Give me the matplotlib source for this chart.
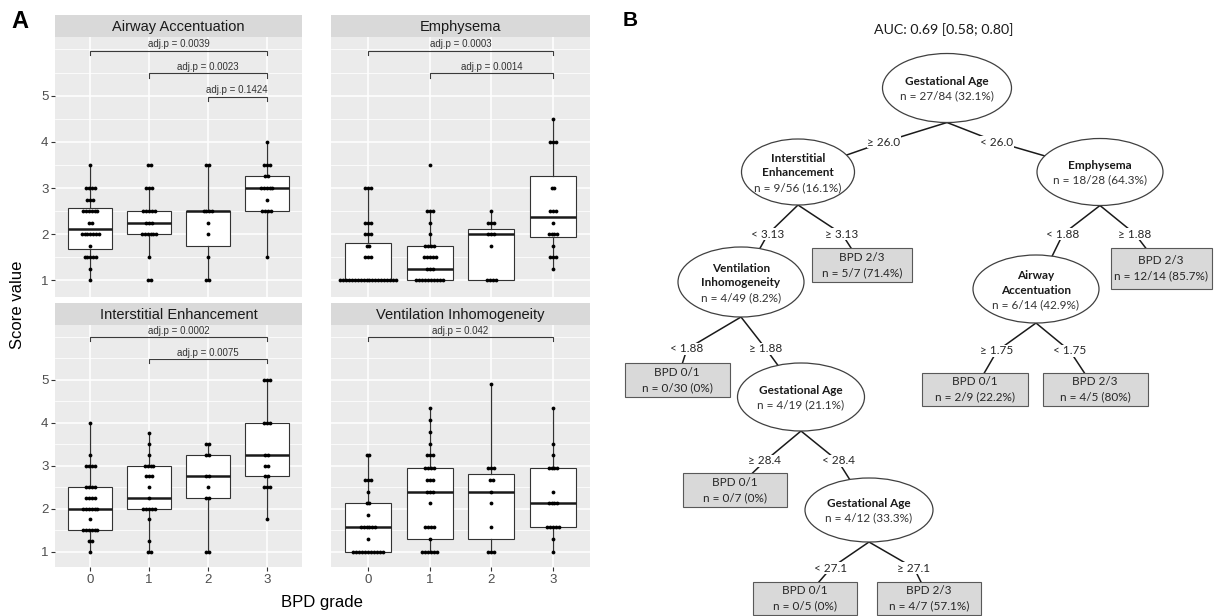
import matplotlib
matplotlib.use("Agg")
import matplotlib.pyplot as plt
from matplotlib.patches import Ellipse, Rectangle

W, H = 1217, 616

grade_labels = ["0", "1", "2", "3"]

# ---- Airway Accentuation: dot values / stacked counts per BPD grade, box statistics
airway_values = [
    [3.5, 3.0, 2.75, 2.5, 2.25, 2.0, 1.75, 1.5, 1.25, 1.0],
    [3.5, 3.0, 2.5, 2.25, 2.0, 1.5, 1.0],
    [3.5, 2.5, 2.25, 2.0, 1.5, 1.0],
    [4.0, 3.5, 3.25, 3.0, 2.75, 2.5, 1.5],
]
airway_counts = [
    [1, 4, 3, 6, 2, 7, 1, 5, 1, 1],
    [2, 3, 5, 3, 6, 1, 2],
    [2, 4, 1, 1, 1, 2],
    [1, 3, 2, 5, 1, 4, 1],
]
airway_q1 = [1.68, 2.0, 1.75, 2.5]
airway_median = [2.12, 2.25, 2.5, 3.0]
airway_q3 = [2.56, 2.5, 2.5, 3.25]
airway_low = [1.0, 1.5, 1.0, 1.5]
airway_high = [3.5, 3.0, 3.5, 4.0]
airway_pairs = [(0, 3), (1, 3), (2, 3)]
airway_bracket_y = [5.97, 5.48, 4.98]
airway_pvals = ["0.0039", "0.0023", "0.1424"]

# ---- Emphysema
emph_values = [
    [3.0, 2.25, 2.0, 1.75, 1.5, 1.0],
    [3.5, 2.5, 2.25, 2.0, 1.75, 1.5, 1.25, 1.0],
    [2.5, 2.25, 2.0, 1.75, 1.0],
    [4.5, 4.0, 3.0, 2.5, 2.25, 2.0, 1.75, 1.5, 1.25],
]
emph_counts = [
    [3, 3, 3, 2, 3, 20],
    [1, 3, 1, 1, 4, 5, 3, 10],
    [1, 3, 3, 1, 4],
    [1, 3, 2, 3, 1, 4, 1, 3, 1],
]
emph_q1 = [1.0, 1.0, 1.0, 1.93]
emph_median = [1.0, 1.25, 2.0, 2.37]
emph_q3 = [1.81, 1.75, 2.12, 3.25]
emph_low = [1.0, 1.0, 1.0, 1.25]
emph_high = [3.0, 2.5, 2.5, 4.5]
emph_pairs = [(0, 3), (1, 3)]
emph_bracket_y = [5.97, 5.48]
emph_pvals = ["0.0003", "0.0014"]

# ---- Interstitial Enhancement
inter_values = [
    [4.0, 3.25, 3.0, 2.5, 2.25, 2.0, 1.75, 1.5, 1.25, 1.0],
    [3.75, 3.5, 3.25, 3.0, 2.75, 2.5, 2.25, 2.0, 1.75, 1.25, 1.0],
    [3.5, 3.25, 2.75, 2.5, 2.25, 1.0],
    [5.0, 4.0, 3.25, 3.0, 2.75, 2.5, 1.75],
]
inter_counts = [
    [1, 1, 4, 4, 4, 6, 1, 6, 2, 1],
    [1, 1, 1, 4, 3, 1, 1, 5, 1, 1, 2],
    [2, 2, 2, 1, 2, 2],
    [3, 3, 2, 2, 2, 3, 1],
]
inter_q1 = [1.5, 2.0, 2.25, 2.75]
inter_median = [2.0, 2.25, 2.75, 3.25]
inter_q3 = [2.5, 3.0, 3.25, 4.0]
inter_low = [1.0, 1.0, 1.0, 1.75]
inter_high = [4.0, 3.75, 3.5, 5.0]
inter_pairs = [(0, 3), (1, 3)]
inter_bracket_y = [5.99, 5.48]
inter_pvals = ["0.0002", "0.0075"]

# ---- Ventilation Inhomogeneity
vent_values = [
    [3.24, 2.67, 2.39, 2.12, 1.84, 1.56, 1.28, 1.0],
    [4.33, 4.06, 3.78, 3.51, 3.24, 2.95, 2.67, 2.39, 2.12, 1.56, 1.28, 1.0],
    [4.9, 2.95, 2.67, 2.39, 2.12, 1.56, 1.0],
    [4.33, 3.51, 3.24, 2.95, 2.39, 2.12, 1.56, 1.28, 1.0],
]
vent_counts = [
    [2, 3, 1, 2, 1, 6, 1, 11],
    [1, 1, 1, 1, 3, 4, 3, 3, 1, 4, 1, 6],
    [1, 3, 2, 1, 1, 1, 3],
    [1, 1, 1, 4, 1, 4, 5, 1, 1],
]
vent_q1 = [1.0, 1.28, 1.28, 1.56]
vent_median = [1.56, 2.39, 2.39, 2.12]
vent_q3 = [2.12, 2.94, 2.81, 2.94]
vent_low = [1.0, 1.0, 1.0, 1.0]
vent_high = [3.24, 4.33, 4.9, 4.33]
vent_pairs = [(0, 3)]
vent_bracket_y = [5.99]
vent_pvals = ["0.042"]

# ---- Decision tree (panel B)
tree_names = ["Gestational Age", "Interstitial\nEnhancement", "Emphysema",
              "Ventilation\nInhomogeneity", "BPD 2/3", "Airway\nAccentuation",
              "BPD 2/3", "BPD 0/1", "Gestational Age", "BPD 0/1", "BPD 2/3",
              "BPD 0/1", "Gestational Age", "BPD 0/1", "BPD 2/3"]
tree_events = [27, 9, 18, 4, 5, 6, 12, 0, 4, 2, 4, 0, 4, 0, 4]
tree_totals = [84, 56, 28, 49, 7, 14, 14, 30, 19, 9, 5, 7, 12, 5, 7]
tree_parent = [None, 0, 0, 1, 1, 2, 2, 3, 3, 5, 5, 8, 8, 12, 12]
tree_split = ["", "≥ 26.0", "< 26.0", "< 3.13", "≥ 3.13", "< 1.88", "≥ 1.88",
              "< 1.88", "≥ 1.88", "≥ 1.75", "< 1.75", "≥ 28.4", "< 28.4",
              "< 27.1", "≥ 27.1"]
auc_text = "AUC: 0.69 [0.58; 0.80]"

# node layout (pixel units of the figure: centre x, centre y, width, height)
node_cx = [947, 798, 1100, 741, 862, 1036, 1161, 677, 801, 975, 1095, 735, 869, 805, 929]
node_cy = [88, 172, 172, 282, 265, 289, 268, 380, 397, 389, 389, 490, 510, 598, 598]
node_w = [129, 113, 126, 126, 100, 126, 101, 105, 127, 106, 105, 104, 128, 104, 104]
node_h = [69, 66, 67, 70, 34, 68, 41, 34, 68, 33, 33, 34, 64, 33, 33]
split_x = [0, 884, 997, 768, 842, 1063, 1135, 687, 766, 997, 1070, 765, 838, 831, 914]
split_y = [0, 142, 142, 234, 234, 234, 234, 349, 349, 351, 351, 461, 461, 568, 568]

SANS = "Liberation Sans"
TREE_FONT = "Lato"
TREE_SIZE = 8.5

fig = plt.figure(figsize=(W / 100, H / 100), dpi=100)
fig.patch.set_facecolor("white")


def rect(x0, y0, x1, y1):
    return [x0 / W, 1 - y1 / H, (x1 - x0) / W, (y1 - y0) / H]


def draw_facet(box, strip, title, values, counts, q1, med, q3, lo, hi,
               pairs, bracket_y, pvals, show_x, show_y):
    ax = fig.add_axes(rect(*box))
    ax.set_facecolor("#EBEBEB")
    for s in ax.spines.values():
        s.set_visible(False)
    ax.set_xlim(-0.6, 3.6)
    ax.set_ylim(0.64, 6.27)
    for yv in [1.5, 2.5, 3.5, 4.5, 5.5, 6.0]:
        ax.axhline(yv, color="white", lw=0.55, zorder=0)
    for yv in [1, 2, 3, 4, 5]:
        ax.axhline(yv, color="white", lw=1.1, zorder=0)
    for xv in range(4):
        ax.axvline(xv, color="white", lw=1.1, zorder=0)

    stats = [dict(q1=q1[i], med=med[i], q3=q3[i], whislo=lo[i], whishi=hi[i],
                  fliers=[]) for i in range(4)]
    ax.bxp(stats, positions=range(4), widths=0.75, patch_artist=True,
           showcaps=False, showfliers=False, manage_ticks=False,
           boxprops=dict(facecolor="white", edgecolor="#333333", linewidth=0.8),
           medianprops=dict(color="#1A1A1A", linewidth=1.8),
           whiskerprops=dict(color="#333333", linewidth=0.9), zorder=2)

    dx = 0.048
    xs, ys = [], []
    for g in range(4):
        for v, c in zip(values[g], counts[g]):
            for k in range(c):
                xs.append(g + (k - (c - 1) / 2) * dx)
                ys.append(v)
    ax.scatter(xs, ys, s=7.5, color="black", linewidths=0, zorder=3)

    for (a, b), yb, p in zip(pairs, bracket_y, pvals):
        tick = 0.09
        ax.plot([a, a, b, b], [yb - tick, yb, yb, yb - tick], color="#3a3a3a",
                lw=0.8, zorder=4, solid_joinstyle="miter")
        ax.text((a + b) / 2, yb + 0.03, f"adj.p = {p}", ha="center", va="bottom",
                fontsize=7, color="#333333", family=SANS, zorder=5)

    ax.set_yticks([1, 2, 3, 4, 5])
    ax.set_xticks(range(4))
    ax.tick_params(length=3.2, width=0.8, color="#333333", labelcolor="#4D4D4D",
                   labelsize=9.5, pad=1.5)
    if show_y:
        ax.set_yticklabels(["1", "2", "3", "4", "5"], family=SANS)
    else:
        ax.tick_params(axis="y", left=False, labelleft=False)
    if show_x:
        ax.set_xticklabels(grade_labels, family=SANS)
    else:
        ax.tick_params(axis="x", bottom=False, labelbottom=False)

    sax = fig.add_axes(rect(*strip))
    sax.set_facecolor("#D9D9D9")
    sax.set_xticks([])
    sax.set_yticks([])
    for s in sax.spines.values():
        s.set_visible(False)
    sax.text(0.5, 0.45, title, ha="center", va="center", fontsize=10.5,
             color="#1A1A1A", family=SANS, transform=sax.transAxes)
    return ax


draw_facet((55, 37, 302, 297), (55, 15, 302, 37), "Airway Accentuation",
           airway_values, airway_counts, airway_q1, airway_median, airway_q3,
           airway_low, airway_high, airway_pairs, airway_bracket_y, airway_pvals,
           False, True)
draw_facet((331, 37, 590, 297), (331, 15, 590, 37), "Emphysema",
           emph_values, emph_counts, emph_q1, emph_median, emph_q3,
           emph_low, emph_high, emph_pairs, emph_bracket_y, emph_pvals,
           False, False)
draw_facet((55, 325, 302, 567), (55, 303, 302, 325), "Interstitial Enhancement",
           inter_values, inter_counts, inter_q1, inter_median, inter_q3,
           inter_low, inter_high, inter_pairs, inter_bracket_y, inter_pvals,
           True, True)
draw_facet((331, 325, 590, 567), (331, 303, 590, 325), "Ventilation Inhomogeneity",
           vent_values, vent_counts, vent_q1, vent_median, vent_q3,
           vent_low, vent_high, vent_pairs, vent_bracket_y, vent_pvals,
           True, False)

fig.text(322 / W, 1 - 602 / H, "BPD grade", ha="center", va="center",
         fontsize=12, family=SANS, color="black")
fig.text(18 / W, 1 - 305 / H, "Score value", ha="center", va="center",
         rotation=90, fontsize=12, family=SANS, color="black")
fig.text(20 / W, 1 - 21 / H, "A", ha="center", va="center", fontsize=17,
         fontweight="bold", family=SANS)
fig.text(630 / W, 1 - 21 / H, "B", ha="center", va="center", fontsize=15,
         fontweight="bold", family=SANS)

# ---- tree overlay in pixel coordinates
tax = fig.add_axes([0, 0, 1, 1])
tax.set_xlim(0, W)
tax.set_ylim(H, 0)
tax.axis("off")
tax.patch.set_visible(False)

tax.text(944, 30, auc_text, ha="center", va="center", fontsize=10.2,
         family=TREE_FONT, color="#1A1A1A")


def pct(e, t):
    s = f"{100 * e / t:.1f}"
    return s[:-2] if s.endswith(".0") else s


for i, name in enumerate(tree_names):
    cx, cy, w, h = node_cx[i], node_cy[i], node_w[i], node_h[i]
    leaf = name.startswith("BPD")
    ntext = f"n = {tree_events[i]}/{tree_totals[i]} ({pct(tree_events[i], tree_totals[i])}%)"
    p = tree_parent[i]
    if p is not None:
        px, py = node_cx[p], node_cy[p] + node_h[p] / 2
        tax.plot([px, split_x[i], cx], [py, split_y[i], cy], color="#1A1A1A",
                 lw=1.1, zorder=1, solid_capstyle="butt")
        tax.text(split_x[i], split_y[i], tree_split[i], ha="center", va="center",
                 fontsize=TREE_SIZE, family=TREE_FONT, color="#262626", zorder=4,
                 bbox=dict(facecolor="white", edgecolor="none", pad=0.6))
    if leaf:
        tax.add_patch(Rectangle((cx - w / 2, cy - h / 2), w, h, facecolor="#D9D9D9",
                                edgecolor="#595959", lw=0.8, zorder=3))
        tax.text(cx, cy - 7.5, name, ha="center", va="center", fontsize=TREE_SIZE,
                 family=TREE_FONT, color="#262626", zorder=5)
        tax.text(cx, cy + 8, ntext, ha="center", va="center", fontsize=TREE_SIZE,
                 family=TREE_FONT, color="#262626", zorder=5)
    else:
        tax.add_patch(Ellipse((cx, cy), w, h, facecolor="white",
                              edgecolor="#404040", lw=0.9, zorder=3))
        lines = name.split("\n")
        n = len(lines) + 1
        pitch = 14.5
        y0 = cy + 1 - (n - 1) * pitch / 2
        for k, ln in enumerate(lines):
            tax.text(cx, y0 + k * pitch, ln, ha="center", va="center",
                     fontsize=TREE_SIZE, fontweight="bold", family=TREE_FONT,
                     color="#1A1A1A", zorder=5)
        tax.text(cx, y0 + len(lines) * pitch, ntext, ha="center", va="center",
                 fontsize=TREE_SIZE, family=TREE_FONT, color="#333333", zorder=5)

fig.savefig("out.png", dpi=100, facecolor="white")
